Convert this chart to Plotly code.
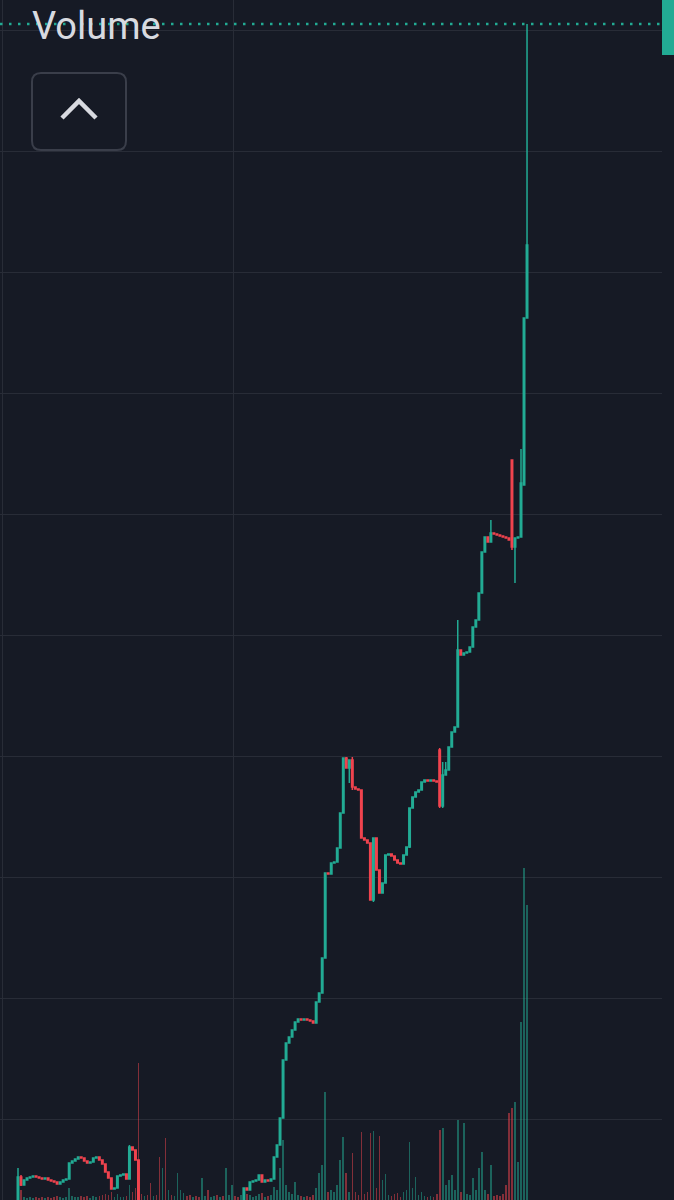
import plotly.graph_objects as go

# ---------------- data ----------------
opens = [
    22.48, 25.21, 24.55, 24.96, 25.12, 25.21, 25.29, 25.21, 25.12, 25.04,
    25.12, 24.96, 24.88, 24.79, 24.63, 24.79, 24.96, 25.04, 26.36, 26.53,
    26.69, 26.86, 26.78, 26.53, 26.36, 26.45, 26.78, 26.86, 26.61, 26.28,
    25.62, 25.12, 24.21, 24.30, 25.29, 25.37, 25.45, 25.04, 27.69, 27.44,
    26.61, 22.07, 21.60, 21.90, 21.40, 21.20, 21.50, 21.30, 21.00, 21.20,
    20.90, 21.10, 20.95, 21.10, 21.30, 21.60, 21.70, 21.50, 21.40, 21.70,
    21.60, 21.50, 21.80, 21.90, 21.70, 21.80, 22.00, 21.90, 22.10, 21.80,
    22.00, 22.20, 22.30, 22.10, 21.90, 22.07, 24.30, 24.13, 24.79, 24.88,
    24.96, 25.37, 24.79, 24.96, 24.88, 25.04, 26.86, 27.85, 30.08, 34.88,
    36.28, 36.78, 37.36, 38.02, 38.26, 38.18, 38.26, 38.18, 38.10, 37.93,
    39.67, 40.41, 43.31, 50.33, 50.25, 51.16, 51.24, 52.40, 55.29, 59.83,
    59.01, 59.67, 57.44, 57.27, 57.19, 53.22, 53.06, 52.81, 48.10, 53.22,
    50.58, 48.68, 49.50, 51.82, 51.90, 51.74, 51.40, 51.16, 51.07, 51.82,
    52.48, 55.70, 56.61, 57.02, 57.19, 57.85, 58.02, 57.93, 58.02, 57.93,
    60.50, 55.87, 58.43, 58.84, 60.74, 61.98, 62.40, 68.76, 68.35, 68.51,
    68.60, 69.01, 70.66, 71.24, 73.47, 76.86, 78.10, 77.69, 78.43, 78.35,
    78.26, 78.18, 78.10, 78.02, 84.46, 77.27, 78.02, 78.10, 82.40, 96.20,
]
closes = [
    25.21, 24.55, 24.96, 25.12, 25.21, 25.29, 25.21, 25.12, 25.04, 25.12,
    24.96, 24.88, 24.79, 24.63, 24.79, 24.96, 25.04, 26.36, 26.53, 26.69,
    26.86, 26.78, 26.53, 26.36, 26.45, 26.78, 26.86, 26.61, 26.28, 25.62,
    25.12, 24.21, 24.30, 25.29, 25.37, 25.45, 25.04, 27.69, 27.44, 26.61,
    22.07, 21.60, 21.90, 21.40, 21.20, 21.50, 21.30, 21.00, 21.20, 20.90,
    21.10, 20.95, 21.10, 21.30, 21.60, 21.70, 21.50, 21.40, 21.70, 21.60,
    21.50, 21.80, 21.90, 21.70, 21.80, 22.00, 21.90, 22.10, 21.80, 22.00,
    22.20, 22.30, 22.10, 21.90, 22.07, 24.30, 24.13, 24.79, 24.88, 24.96,
    25.37, 24.79, 24.96, 24.88, 25.04, 26.86, 27.85, 30.08, 34.88, 36.28,
    36.78, 37.36, 38.02, 38.26, 38.18, 38.26, 38.18, 38.10, 37.93, 39.67,
    40.41, 43.31, 50.33, 50.25, 51.16, 51.24, 52.40, 55.29, 59.83, 59.01,
    59.67, 57.44, 57.27, 57.19, 53.22, 53.06, 52.81, 48.10, 53.22, 50.58,
    48.68, 49.50, 51.82, 51.90, 51.74, 51.40, 51.16, 51.07, 51.82, 52.48,
    55.70, 56.61, 57.02, 57.19, 57.85, 58.02, 57.93, 58.02, 57.93, 57.85,
    55.87, 58.43, 58.84, 60.74, 61.98, 62.40, 68.76, 68.35, 68.51, 68.60,
    69.01, 70.66, 71.24, 73.47, 76.86, 78.10, 77.69, 78.43, 78.35, 78.26,
    78.18, 78.10, 78.02, 77.85, 77.27, 78.02, 78.10, 82.56, 96.20, 102.23,
]
highs = [
    25.95, 25.37, 24.96, 25.12, 25.21, 25.29, 25.29, 25.21, 25.12, 25.12,
    25.12, 24.96, 24.88, 24.79, 24.79, 24.96, 25.04, 26.36, 26.53, 26.69,
    26.86, 26.86, 26.78, 26.53, 26.45, 26.78, 26.86, 26.86, 26.61, 26.28,
    25.62, 25.12, 24.30, 25.29, 25.37, 25.45, 25.45, 27.85, 27.69, 27.44,
    26.61, 22.07, 21.90, 21.90, 21.40, 21.50, 21.50, 21.30, 21.20, 21.20,
    21.10, 21.10, 21.10, 21.30, 21.60, 21.70, 21.70, 21.50, 21.70, 21.70,
    21.60, 21.80, 21.90, 21.90, 21.80, 22.00, 22.00, 22.10, 22.10, 22.00,
    22.20, 22.30, 22.30, 22.10, 22.07, 24.30, 24.30, 24.79, 24.88, 24.96,
    25.37, 25.37, 24.96, 24.96, 25.04, 26.86, 27.85, 30.08, 34.88, 36.28,
    36.78, 37.36, 38.02, 38.26, 38.26, 38.26, 38.26, 38.18, 38.10, 39.67,
    40.41, 43.31, 50.33, 50.33, 51.16, 51.24, 52.40, 55.29, 59.83, 59.92,
    59.67, 59.92, 57.44, 57.27, 57.19, 53.22, 53.06, 52.81, 53.22, 53.22,
    50.58, 49.50, 51.82, 51.90, 51.90, 51.74, 51.40, 51.16, 51.82, 52.48,
    55.70, 56.61, 57.02, 57.19, 57.85, 58.02, 58.02, 58.02, 58.02, 57.93,
    60.66, 59.50, 59.50, 60.74, 61.98, 62.40, 71.24, 68.76, 68.51, 68.60,
    69.01, 70.66, 71.24, 73.47, 76.86, 78.10, 78.10, 79.50, 78.43, 78.35,
    78.26, 78.18, 78.10, 78.02, 84.46, 78.02, 78.10, 85.37, 96.20, 120.50,
]
lows = [
    22.48, 24.46, 24.55, 24.96, 25.12, 25.21, 25.21, 25.12, 25.04, 25.04,
    24.96, 24.88, 24.79, 24.63, 24.63, 24.79, 24.96, 25.04, 26.36, 26.53,
    26.69, 26.78, 26.53, 26.36, 26.36, 26.45, 26.78, 26.61, 26.28, 25.62,
    25.12, 24.21, 24.21, 24.30, 25.29, 25.37, 25.04, 25.04, 27.44, 26.61,
    21.24, 21.60, 21.60, 21.40, 21.20, 21.20, 21.30, 21.00, 21.00, 20.90,
    20.90, 20.95, 20.95, 21.10, 21.30, 21.60, 21.50, 21.40, 21.40, 21.60,
    21.50, 21.50, 21.80, 21.70, 21.70, 21.80, 21.90, 21.90, 21.80, 21.80,
    22.00, 22.20, 22.10, 21.90, 21.90, 22.07, 24.13, 24.13, 24.79, 24.88,
    24.96, 24.79, 24.79, 24.88, 24.88, 25.04, 26.86, 27.85, 30.08, 34.88,
    36.28, 36.78, 37.36, 38.02, 38.18, 38.18, 38.18, 38.10, 37.93, 37.93,
    39.67, 40.41, 43.31, 50.25, 50.25, 51.16, 51.24, 52.40, 55.29, 59.01,
    57.77, 57.19, 57.27, 57.19, 53.22, 53.06, 52.81, 48.10, 47.93, 50.58,
    48.68, 48.68, 49.50, 51.82, 51.74, 51.40, 51.16, 51.07, 51.07, 51.82,
    52.40, 55.70, 56.61, 57.02, 57.19, 57.85, 57.93, 57.93, 57.93, 57.85,
    55.70, 55.70, 58.43, 58.84, 60.74, 61.98, 62.40, 68.35, 68.35, 68.51,
    68.60, 69.01, 70.66, 71.24, 73.47, 76.86, 77.69, 77.69, 78.35, 78.26,
    78.18, 78.10, 78.02, 77.85, 77.02, 74.30, 78.02, 78.10, 82.40, 96.20,
]
volumes = [
    0.5, 1.0, 0.3, 0.2, 0.3, 0.2, 0.3, 0.2, 0.3, 0.2,
    0.3, 0.2, 0.3, 0.4, 0.3, 0.2, 0.3, 1.2, 0.4, 0.3,
    0.3, 0.4, 0.3, 0.4, 0.2, 0.4, 0.3, 0.4, 0.5, 0.6,
    0.5, 0.8, 0.3, 0.6, 0.3, 0.3, 0.4, 1.5, 0.8, 1.2,
    13.7, 0.6, 0.4, 0.5, 1.7, 0.4, 0.5, 4.3, 3.2, 6.2,
    1.0, 0.5, 0.4, 2.7, 1.0, 0.7, 0.4, 0.5, 0.3, 0.4,
    0.3, 2.2, 0.4, 1.0, 0.3, 0.4, 0.5, 0.3, 0.4, 3.2,
    0.5, 1.5, 0.4, 0.3, 0.5, 1.2, 0.6, 0.5, 0.3, 0.4,
    0.6, 0.7, 0.3, 0.4, 0.5, 1.3, 1.0, 3.2, 6.0, 1.5,
    0.8, 0.6, 1.8, 0.5, 0.4, 0.3, 0.4, 0.3, 0.5, 1.2,
    2.7, 3.5, 10.8, 0.8, 1.0, 0.8, 1.5, 4.0, 6.3, 2.7,
    0.8, 4.7, 0.8, 0.5, 6.8, 0.6, 0.8, 6.7, 6.9, 1.2,
    6.4, 2.0, 2.6, 0.5, 0.4, 0.6, 0.7, 0.3, 0.8, 1.0,
    5.8, 1.2, 2.3, 0.5, 0.8, 0.4, 0.3, 0.4, 0.3, 0.6,
    7.0, 7.2, 1.5, 2.0, 2.5, 1.0, 8.0, 0.8, 7.7, 0.6,
    0.5, 2.2, 1.0, 3.2, 4.8, 1.0, 0.6, 3.5, 0.4, 0.5,
    0.4, 0.6, 1.5, 8.7, 9.2, 9.8, 3.8, 17.8, 33.2, 29.5,
]
bar_index = list(range(len(closes)))
last_price = 120.50
price_grid = [30, 40, 50, 60, 70, 80, 90, 100, 110, 120]
time_grid = [-5.0, 71.7]
pane_title = "Volume"

# ---------------- styling ----------------
BG = "#161a25"
GRID = "#282c37"
UP = "#22ab94"
DOWN = "#f0434e"
UP_VOL = "rgba(34,171,148,0.5)"
DOWN_VOL = "rgba(240,67,78,0.5)"
W, H = 674, 1200
PLOT_W = 662


def px(x, y):
    return x / PLOT_W, 1 - y / H


vol_colors = [UP_VOL if c >= o else DOWN_VOL for o, c in zip(opens, closes)]

fig = go.Figure()
fig.add_trace(go.Bar(
    x=bar_index, y=volumes, yaxis="y", width=0.55,
    marker=dict(color=vol_colors, line=dict(width=0)),
    showlegend=False, hoverinfo="skip",
))
fig.add_trace(go.Candlestick(
    x=bar_index, open=opens, high=highs, low=lows, close=closes, yaxis="y2",
    increasing=dict(line=dict(color=UP, width=1.5), fillcolor=UP),
    decreasing=dict(line=dict(color=DOWN, width=1.5), fillcolor=DOWN),
    whiskerwidth=0, showlegend=False,
))

shapes = []
# last price dotted line
shapes.append(dict(type="line", xref="paper", x0=0, x1=1, yref="y2",
                   y0=last_price, y1=last_price,
                   line=dict(color=UP, width=2.5, dash="2.5px,6.5px"), layer="above"))
# price label at the right edge (cropped)
lx0, ly0 = px(662, 55)
lx1, ly1 = px(674, 0)
shapes.append(dict(type="rect", xref="paper", yref="paper", x0=lx0, x1=lx1, y0=ly0, y1=ly1,
                   fillcolor=UP, line=dict(width=0), layer="above"))
# collapse button (rounded rectangle)
bx0, by0, bx1, by1, r = 32, 73, 126, 150, 9
pts = [
    ("M", bx0 + r, by0), ("L", bx1 - r, by0), ("Q", bx1, by0, bx1, by0 + r),
    ("L", bx1, by1 - r), ("Q", bx1, by1, bx1 - r, by1), ("L", bx0 + r, by1),
    ("Q", bx0, by1, bx0, by1 - r), ("L", bx0, by0 + r), ("Q", bx0, by0, bx0 + r, by0),
]
path = ""
for p in pts:
    cmd = p[0]
    coords = p[1:]
    seg = []
    for k in range(0, len(coords), 2):
        xx, yy = px(coords[k], coords[k + 1])
        seg.append(f"{xx:.5f},{yy:.5f}")
    path += cmd + " " + " ".join(seg) + " "
path += "Z"
shapes.append(dict(type="path", xref="paper", yref="paper", path=path,
                   fillcolor=BG, line=dict(color="#3a3e4a", width=2), layer="above"))
# chevron
c1 = px(62, 118)
c2 = px(79, 101)
c3 = px(96, 118)
shapes.append(dict(type="path", xref="paper", yref="paper",
                   path=f"M {c1[0]:.5f},{c1[1]:.5f} L {c2[0]:.5f},{c2[1]:.5f} L {c3[0]:.5f},{c3[1]:.5f}",
                   line=dict(color="#d8dae0", width=4.5), layer="above"))

tx, ty = px(30, 26)
fig.update_layout(
    width=W, height=H,
    margin=dict(l=0, r=W - PLOT_W, t=0, b=0),
    paper_bgcolor=BG, plot_bgcolor=BG,
    showlegend=False,
    bargap=0,
    xaxis=dict(range=[-5.976, 213.81], showticklabels=False, tickvals=time_grid,
               showgrid=True, gridcolor=GRID, gridwidth=1, zeroline=False,
               rangeslider=dict(visible=False), fixedrange=True),
    yaxis=dict(range=[0, 120], visible=False, showgrid=False, zeroline=False),
    yaxis2=dict(range=[23.31, 122.48], overlaying="y", side="right",
                tickvals=price_grid, showticklabels=False, showgrid=True,
                gridcolor=GRID, gridwidth=1, zeroline=False),
    shapes=shapes,
    annotations=[dict(text=pane_title, xref="paper", yref="paper", x=tx, y=ty,
                      xanchor="left", yanchor="middle", showarrow=False,
                      font=dict(family="Roboto, Noto Sans, sans-serif", size=38,
                                color="#d8dae0"))],
)

fig.write_html(
    "out.html",
    config={"displayModeBar": False},
    post_script="document.body.style.margin='0px';document.body.style.background='#161a25';",
)
